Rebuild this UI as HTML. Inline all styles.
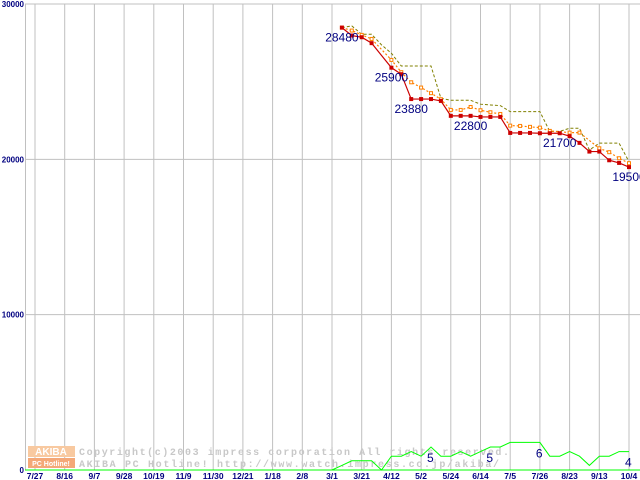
<!DOCTYPE html>
<html><head><meta charset="utf-8"><style>
html,body{margin:0;padding:0;background:#fff;width:640px;height:480px;overflow:hidden}
svg{display:block}
</style></head><body>
<svg id="chart" width="640" height="480" xmlns="http://www.w3.org/2000/svg" font-family="Liberation Sans, sans-serif">
<g id="grid"></g>
<g id="wm">
  <rect x="28" y="446" width="47" height="11" fill="#f8c9a0"/>
  <rect x="28" y="458" width="47" height="10" fill="#f4a878"/>
  <text x="51" y="455" font-size="10" font-weight="bold" fill="#fff" text-anchor="middle">AKIBA</text>
  <text x="51" y="466" font-size="7" font-weight="bold" fill="#fff" text-anchor="middle">PC Hotline!</text>
  <text x="79" y="455" font-size="10" font-weight="bold" fill="#c8c8c8" font-family="Liberation Mono, monospace" textLength="430">Copyright(c)2003 impress corporation All rights reserved.</text>
  <text x="79" y="467" font-size="10" font-weight="bold" fill="#c8c8c8" font-family="Liberation Mono, monospace" textLength="420">AKIBA PC Hotline! http://www.watch.impress.co.jp/akiba/</text>
</g>
<g id="series"></g>
</svg>
<script>
const xLabels=["7/27","8/16","9/7","9/28","10/19","11/9","11/30","12/21","1/18","2/8","3/1","3/21","4/12","5/2","5/24","6/14","7/5","7/26","8/23","9/13","10/4"];
const yTicks=[0,10000,20000,30000];
const startWeek=31;
const minPrice=[28480,27970,27860,27480,null,25900,25480,23880,23880,23880,23760,22800,22800,22800,22730,22730,22730,21700,21700,21700,21680,21680,21680,21490,21060,20500,20500,19940,19770,19500];
const avgPrice=[28480,28290,28010,27750,null,26400,25610,24960,24620,24260,23870,23180,23180,23370,23160,23030,22920,22170,22150,22090,22040,21830,null,21720,21720,null,20710,20460,20070,19750];
const maxPrice=[28480,28590,28050,28050,27370,26830,26010,26010,26010,26010,23930,23800,23800,23800,23550,23500,23460,23070,23070,23070,23070,21790,21800,22000,22000,20600,21040,21040,21040,19850];
const shopCount=[1,2,2,2,0,3,3,4,3,5,3,3,4,3,4,5,5,6,6,6,6,3,3,4,3,1,3,3,4,4];
const priceLabels=[[0,"28480"],[5,"25900"],[7,"23880"],[13,"22800"],[22,"21700"],[29,"19500"]];
const countLabels=[[9,"5"],[15,"5"],[20,"6"],[29,"4"]];
const NS="http://www.w3.org/2000/svg";
const X0=35,GS=29.7,WK=GS/3,Y0=470,YS=466/30000,CS=4.6;
const xw=w=>X0+WK*w;
const yv=v=>Y0-v*YS;
const yc=c=>Y0-c*CS;
function mk(tag,attrs,parent){const e=document.createElementNS(NS,tag);for(const k in attrs)e.setAttribute(k,attrs[k]);parent.appendChild(e);return e;}
const grid=document.getElementById('grid');
xLabels.forEach((l,i)=>{
  const x=X0+GS*i;
  const ln=mk('line',{x1:x,y1:4,x2:x,y2:470,stroke:'#c0c0c0','stroke-width':1},grid);
  
  
  const t=mk('text',{x:x,y:479,'font-size':8.5,'font-weight':'bold',fill:'#000080','text-anchor':'middle'},grid);
  t.textContent=l;
  
  
});
yTicks.forEach(v=>{
  const y=yv(v);
  const ln=mk('line',{x1:25,y1:y,x2:640,y2:y,stroke:v===0?'#00ff00':'#c0c0c0','stroke-width':1},grid);
  
  
  const t=mk('text',{x:24,y:y+3,'font-size':8,'font-weight':'bold',fill:'#000080','text-anchor':'end'},grid);
  t.textContent=String(v);
  
  
});
const ax=mk('line',{x1:25.5,y1:4,x2:25.5,y2:470,stroke:'#c0c0c0'},grid);


const S=document.getElementById('series');
function pts(arr,fy){return arr.map((v,i)=>v==null?null:[xw(startWeek+i),fy(v)]).filter(p=>p);}
let gp=[[25,Y0],[xw(startWeek-1),Y0]].concat(pts(shopCount,yc));
const g=mk('polyline',{points:gp.map(p=>p.join(',')).join(' '),fill:'none',stroke:'#00ff00','stroke-width':1},S);


const mp=pts(maxPrice,yv);
const m=mk('polyline',{points:mp.map(p=>p.join(',')).join(' '),fill:'none',stroke:'#808000','stroke-width':1,'stroke-dasharray':'3,2'},S);


const ap=pts(avgPrice,yv);
const a=mk('polyline',{points:ap.map(p=>p.join(',')).join(' '),fill:'none',stroke:'#ff8000','stroke-width':1.2,'stroke-dasharray':'2,2'},S);


ap.forEach(p=>{const r=mk('rect',{x:p[0]-1.5,y:p[1]-1.5,width:3,height:3,fill:'#fff',stroke:'#ff8000','stroke-width':1},S);

});
const np=pts(minPrice,yv);
const n=mk('polyline',{points:np.map(p=>p.join(',')).join(' '),fill:'none',stroke:'#cc0000','stroke-width':1.2},S);


np.forEach(p=>{const r=mk('rect',{x:p[0]-2,y:p[1]-2,width:4,height:4,fill:'#cc0000'},S);

});
priceLabels.forEach(([i,s])=>{
  const t=mk('text',{x:xw(startWeek+i),y:yv(minPrice[i])+14,'font-size':12,fill:'#000080','text-anchor':'middle'},S);
  t.textContent=s;
  
  
});
countLabels.forEach(([i,s])=>{
  const t=mk('text',{x:xw(startWeek+i)-4,y:yc(shopCount[i])+15,'font-size':12,fill:'#000080'},S);
  t.textContent=s;
  
  
});
</script>
</body></html>
